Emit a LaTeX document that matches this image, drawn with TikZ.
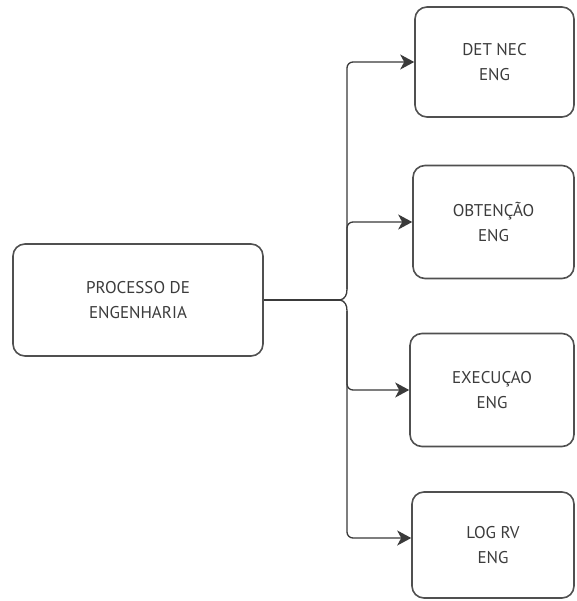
\documentclass[tikz,border=0pt]{standalone}
\usepackage{fontspec}
\setmainfont{PT Sans}
\usetikzlibrary{arrows.meta}
\definecolor{boxgray}{HTML}{505050}
\definecolor{linegray}{HTML}{3A3A3A}
\definecolor{txtgray}{HTML}{3C3C3C}
\begin{document}
\begin{tikzpicture}[x=1pt,y=-1pt,
  box/.style={draw=boxgray, line width=1.6pt, rounded corners=12pt, align=center,
    font=\fontsize{17}{25}\selectfont, text=txtgray, inner sep=0pt},
  conn/.style={draw=linegray, line width=1.3pt},
  arr/.style={conn, -{Stealth[length=14pt,width=15pt,inset=4pt]}, rounded corners=6pt}]
\useasboundingbox[fill=white] (0,0) rectangle (576,601);
\node[box, minimum width=250pt, minimum height=112pt] (main) at (138,300) {PROCESSO DE\\ENGENHARIA};
\node[box, minimum width=159pt, minimum height=110pt] (b1) at (494.5,62) {DET NEC\\ENG};
\node[box, minimum width=161pt, minimum height=113pt] (b2) at (493.5,222) {OBTENÇÃO\\ENG};
\node[box, minimum width=164pt, minimum height=113pt] (b3) at (492,390) {EXECUÇAO\\ENG};
\node[box, minimum width=162pt, minimum height=106pt] (b4) at (493,545) {LOG RV\\ENG};
\coordinate (tip) at (340,300);
\coordinate (vt) at (347,289);
\coordinate (vb) at (347,311);
\draw[conn] (main.east) -- (tip);
\draw[conn] (tip) .. controls (345,299) and (347,295) .. (vt);
\draw[conn] (tip) .. controls (345,301) and (347,305) .. (vb);
\draw[arr] (vt) |- (b1.west);
\draw[arr] (vt) |- (b2.west);
\draw[arr] (vb) |- (b3.west);
\draw[arr] (vb) |- ([yshift=7pt]b4.west);
\end{tikzpicture}
\end{document}
